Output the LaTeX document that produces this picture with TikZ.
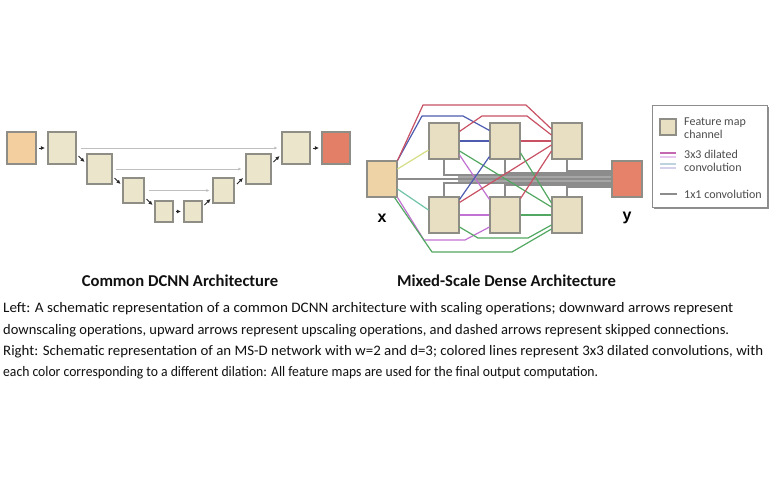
\documentclass[tikz,border=0pt]{standalone}
\usepackage{graphicx}
\usepackage{fontspec}
\setmainfont{Carlito}
\newfontfamily\labfont{Liberation Sans}
\usetikzlibrary{calc,shadows,arrows.meta}
\definecolor{boxline}{HTML}{8E8E86}
\definecolor{peach}{HTML}{F3CFA0}
\definecolor{lbeige}{HTML}{EBE6CB}
\definecolor{lred}{HTML}{E47F67}
\definecolor{xpeach}{HTML}{EED3A7}
\definecolor{msbeige}{HTML}{E8DEC2}
\definecolor{yred}{HTML}{E6826A}
\definecolor{cAone}{HTML}{D6DE86}
\definecolor{cBone}{HTML}{72C4A8}
\definecolor{cAtwo}{HTML}{4E5CB0}
\definecolor{cBtwo}{HTML}{C272D2}
\definecolor{cAthree}{HTML}{C85264}
\definecolor{cBthree}{HTML}{52A862}
\definecolor{onegray}{HTML}{8C8C8C}
\definecolor{captxt}{HTML}{111111}
\newcommand\capline[2]{\resizebox{#1}{\height}{#2}}
\begin{document}
\begin{tikzpicture}[x=1pt,y=-1pt,
  fm/.style={draw=boxline, line width=1.1pt, inner sep=0pt},
  sarr/.style={-{Latex[length=4pt,width=4pt]}, line width=1pt, black!85},
  skip/.style={-{Latex[length=3pt,width=3pt]}, line width=0.8pt, black!25},
  conn/.style={line width=1.2pt, line join=round},
  onex/.style={line width=1.1pt, onegray},
  caption/.style={anchor=base west, inner sep=0pt, font=\fontsize{14.5}{17}\selectfont, text=captxt},
  titletext/.style={anchor=base, inner sep=0pt, font=\bfseries\fontsize{16.6}{18}\selectfont, text=captxt},
  legtext/.style={anchor=west, inner sep=0pt, align=left, font=\fontsize{12}{12.5}\selectfont, text=black!70},
  xylab/.style={inner sep=0pt, font=\labfont\bfseries\fontsize{16}{18}\selectfont}]
\useasboundingbox[fill=white] (0,0) rectangle (780,480);

% ---------- Common DCNN ----------
\node[fm, fill=peach, minimum width=29pt, minimum height=32pt] (L1) at (21.5,148) {};
\node[fm, fill=lbeige, minimum width=28pt, minimum height=32pt] (L2) at (62,148) {};
\node[fm, fill=lbeige, minimum width=25pt, minimum height=30pt] (L3) at (99.5,169) {};
\node[fm, fill=lbeige, minimum width=21pt, minimum height=25pt] (L4) at (133.5,190.5) {};
\node[fm, fill=lbeige, minimum width=18pt, minimum height=21pt] (L5) at (164,211.5) {};
\node[fm, fill=lbeige, minimum width=18pt, minimum height=21pt] (L6) at (193,211.5) {};
\node[fm, fill=lbeige, minimum width=21pt, minimum height=25pt] (L7) at (223.5,190.5) {};
\node[fm, fill=lbeige, minimum width=25pt, minimum height=30pt] (L8) at (258.5,169) {};
\node[fm, fill=lbeige, minimum width=28pt, minimum height=32pt] (L9) at (296,148) {};
\node[fm, fill=lred, minimum width=28pt, minimum height=32pt] (L10) at (336,148) {};

\draw[skip] ($(L2.east)+(4,0)$) -- ($(L9.west)+(-4,0)$);
\draw[skip] ($(L3.east)+(3,0)$) -- ($(L8.west)+(-4,0)$);
\draw[skip] ($(L4.east)+(4,0)$) -- ($(L7.west)+(-3,0)$);

\draw[sarr, shorten <=2.5pt, shorten >=2.5pt] (L1.east) -- (L2.west);
\draw[sarr, shorten <=2.5pt, shorten >=2.5pt] (L5.east) -- (L6.west);
\draw[sarr, shorten <=2.5pt, shorten >=2.5pt] (L9.east) -- (L10.west);
\draw[sarr] ($(L2.south east)!0.5!(L3.north west)+(-3,-3)$) -- ($(L2.south east)!0.5!(L3.north west)+(3,3)$);
\draw[sarr] ($(L3.south east)!0.5!(L4.north west)+(-3,-3)$) -- ($(L3.south east)!0.5!(L4.north west)+(3,3)$);
\draw[sarr] ($(L4.south east)!0.5!(L5.north west)+(-3,-3)$) -- ($(L4.south east)!0.5!(L5.north west)+(3,3)$);
\draw[sarr] ($(L6.north east)!0.5!(L7.south west)+(-3,3)$) -- ($(L6.north east)!0.5!(L7.south west)+(3,-3)$);
\draw[sarr] ($(L7.north east)!0.5!(L8.south west)+(-3,3)$) -- ($(L7.north east)!0.5!(L8.south west)+(3,-3)$);
\draw[sarr] ($(L8.north east)!0.5!(L9.south west)+(-3,3)$) -- ($(L8.north east)!0.5!(L9.south west)+(3,-3)$);

% ---------- Mixed-Scale Dense ----------
\node[fm, fill=xpeach, minimum width=30pt, minimum height=36pt] (X) at (382,179) {};
\node[fm, fill=msbeige, minimum width=30pt, minimum height=36pt] (A1) at (444,141) {};
\node[fm, fill=msbeige, minimum width=30pt, minimum height=36pt] (A2) at (505,141) {};
\node[fm, fill=msbeige, minimum width=30pt, minimum height=36pt] (A3) at (567,141) {};
\node[fm, fill=msbeige, minimum width=30pt, minimum height=36pt] (B1) at (444,215) {};
\node[fm, fill=msbeige, minimum width=30pt, minimum height=36pt] (B2) at (505,215) {};
\node[fm, fill=msbeige, minimum width=30pt, minimum height=36pt] (B3) at (567,215) {};
\node[fm, fill=yred, minimum width=30pt, minimum height=36pt] (Y) at (627,179) {};
\node[xylab] (xl) at (382,218) {x};
\node[xylab] (yl) at (627,218) {y};

% 1x1 convolutions
\draw[onex] (X.east) -- (X.east -| Y.west);
\draw[onex] (A1.south) |- ($(Y.west)+(0,-4)$);
\draw[onex] (A2.south) |- ($(Y.west)+(0,-6)$);
\draw[onex] (A3.south) |- ($(Y.west)+(0,-8)$);
\draw[onex] (B1.north) |- ($(Y.west)+(0,4)$);
\draw[onex] (B2.north) |- ($(Y.west)+(0,6)$);
\draw[onex] (B3.north) |- ($(Y.west)+(0,8)$);
\draw[onex, black!35] ($(X.east)+(60,-2)$) -- ($(Y.west)+(0,-2)$);
\draw[onex, black!35] ($(X.east)+(60,2)$) -- ($(Y.west)+(0,2)$);

% 3x3 dilated convolutions
\draw[conn, cAone] ($(X.east)+(0,-10)$) -- ($(A1.west)+(0,9)$);
\draw[conn, cBone] ($(X.east)+(0,10)$) -- ($(B1.west)+(0,-5)$);
\draw[conn, cAtwo] (X.north east) -- (422,116) -- (463,116) -- ($(A2.north west)+(0,8)$);
\draw[conn, cAthree] (X.north east) -- (423,105) -- (526,105) -- ($(A3.west)+(0,-12)$);
\draw[conn, cBtwo] (X.south east) -- (424,240) -- (465,240) -- ($(B2.west)+(0,12)$);
\draw[conn, cBthree] ($(X.south east)+(-3,0)$) -- (432,252) -- (512,252) -- ($(B3.west)+(0,14)$);
\draw[conn, cAtwo] (A1.east) -- (A2.west);
\draw[conn, cAthree] ($(A1.north east)+(0,9)$) -- (482,116) -- (527,116) -- ($(A3.west)+(0,-6)$);
\draw[conn, cBtwo] ($(A1.east)+(0,14)$) -- ($(B2.north west)+(0,3)$);
\draw[conn, cBthree] ($(A1.east)+(0,10)$) -- ($(B3.west)+(0,-8)$);
\draw[conn, cAtwo] ($(B1.north east)+(0,3)$) -- ($(A2.south west)+(0,-3)$);
\draw[conn, cAthree] ($(B1.north east)+(0,6)$) -- ($(A3.west)+(0,4)$);
\draw[conn, cBtwo] (B1.east) -- (B2.west);
\draw[conn, cBthree] ($(B1.east)+(0,12)$) -- (478,238) -- (528,238) -- ($(B3.west)+(0,10)$);
\draw[conn, cAthree] (A2.east) -- (A3.west);
\draw[conn, cBthree] ($(A2.east)+(0,12)$) -- ($(B3.west)+(0,-12)$);
\draw[conn, cAthree] ($(B2.north east)+(0,2)$) -- ($(A3.west)+(0,10)$);
\draw[conn, cBthree] (B2.east) -- (B3.west);

% ---------- Legend ----------
\node[draw=black!45, line width=0.8pt, fill=white, minimum width=115pt, minimum height=102pt,
      drop shadow={shadow xshift=2pt, shadow yshift=-2pt, fill=black!55, opacity=0.8}] (leg) at (709.5,156) {};
\node[fm, fill=msbeige, minimum width=16pt, minimum height=16pt] (legfm) at (668,127) {};
\node[legtext] (legt1) at (684,128) {Feature map\\channel};
\draw[line width=1.8pt, color=cBtwo!70!cAthree] (660,153) -- (676,153);
\draw[line width=1.8pt, color=cBtwo!40] (660,157) -- (676,157);
\draw[line width=1.8pt, color=cBone!50!cAtwo!40] (660,164) -- (676,164);
\draw[line width=1.8pt, color=cBtwo!35!cAtwo!30] (660,168) -- (676,168);
\node[legtext] (legt2) at (684,161) {3x3 dilated\\convolution};
\draw[line width=1.2pt, onegray] (660,194) -- (677,194);
\node[legtext] (legt3) at (684,194) {1x1 convolution};

% ---------- Titles and caption ----------
\node[titletext] (t1) at (180,286) {Common DCNN Architecture};
\node[titletext] (t2) at (506.5,286) {Mixed-Scale Dense Architecture};
\node[caption] (c1) at (3,312) {\capline{730pt}{Left: A schematic representation of a common DCNN architecture with scaling operations; downward arrows represent}};
\node[caption] (c2) at (3,334) {\capline{726pt}{downscaling operations, upward arrows represent upscaling operations, and dashed arrows represent skipped connections.}};
\node[caption] (c3) at (3,355) {\capline{760pt}{Right: Schematic representation of an MS-D network with w=2 and d=3; colored lines represent 3x3 dilated convolutions, with}};
\node[caption] (c4) at (3,376) {\capline{595pt}{each color corresponding to a different dilation: All feature maps are used for the final output computation.}};
\end{tikzpicture}
\end{document}
